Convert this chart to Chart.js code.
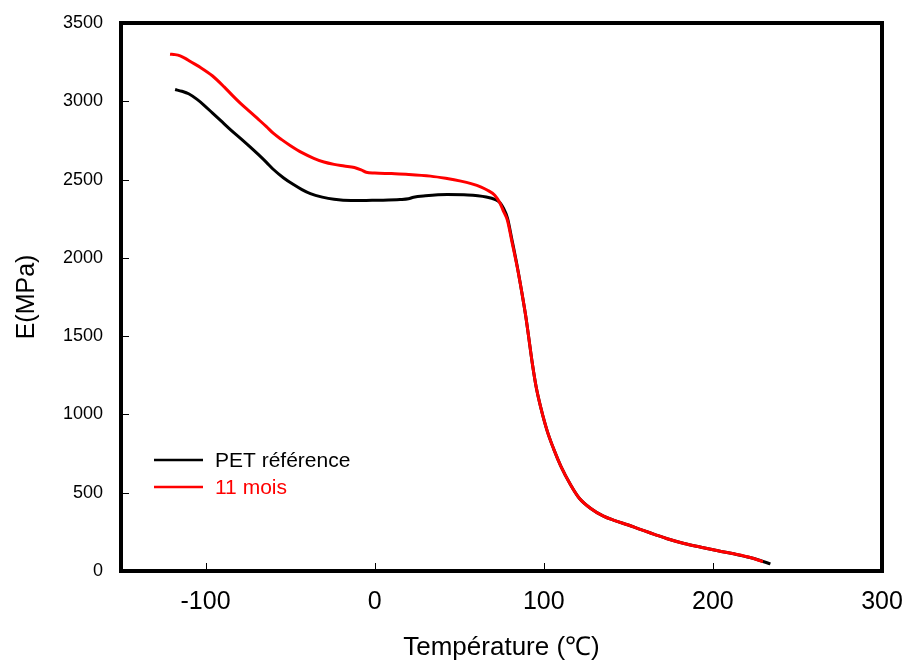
<!DOCTYPE html>
<html>
<head>
<meta charset="utf-8">
<script src="https://cdn.jsdelivr.net/npm/chart.js@4"></script>
<style>
  body { margin: 0; background: #fff; }
  canvas { display: block; }
</style>
</head>
<body>
<canvas id="modulusChart" width="906" height="664"></canvas>
<script>
// values (temperature in °C, modulus in MPa)
const refTemp = [-118, -114, -110, -105, -101, -96, -91, -85, -79, -74, -69, -64, -60, -54, -48, -43, -38, -31, -24, -14,
    -5, 5, 15, 20, 23, 30, 43, 55, 61, 66, 71, 74, 76, 78.5, 81, 84.4, 87, 89.3, 91, 93.3,
    95.5, 98.2, 102, 106, 110, 116, 121, 128, 135, 142, 150, 157, 165, 173, 183, 193, 203, 213, 222, 228, 234];
const refModulus = [3075, 3064, 3048, 3012, 2976, 2926, 2876, 2816, 2760, 2712, 2662, 2610, 2566, 2512, 2468, 2436, 2410, 2388, 2374, 2366,
    2367, 2368, 2372, 2377, 2387, 2396, 2404, 2402, 2397, 2389, 2374, 2354, 2320, 2255, 2125, 1940, 1780, 1630, 1500, 1320,
    1175, 1045, 895, 775, 672, 548, 465, 398, 352, 322, 294, 266, 236, 206, 176, 152, 129, 108, 86, 67, 45];

const agedTemp = [-121, -118, -115, -112, -109, -103, -96, -89, -84, -79, -74, -69, -64, -60, -55, -50, -43, -36, -30, -24,
    -18, -12, -8, -5, 0, 10, 20, 33, 42, 51, 57, 63, 67, 71, 74, 76, 78.5, 81, 84.4, 87,
    89.3, 91, 93.3, 95.5, 98.2, 102, 106, 110, 116, 121, 128, 135, 142, 150, 157, 165, 173, 183, 193, 203, 213, 222, 229.6];
const agedModulus = [3301, 3298, 3290, 3274, 3254, 3216, 3163, 3092, 3036, 2983, 2935, 2887, 2838, 2796, 2755, 2718, 2672, 2636, 2612, 2597,
    2587, 2577, 2562, 2547, 2542, 2538, 2533, 2522, 2508, 2490, 2474, 2452, 2430, 2400, 2352, 2302, 2240, 2112, 1935, 1780,
    1630, 1500, 1320, 1175, 1045, 895, 775, 672, 548, 465, 398, 352, 322, 294, 266, 236, 206, 176, 152, 129, 108, 86, 60];

const xTicks = [-100, 0, 100, 200, 300];
const yTicks = [0, 500, 1000, 1500, 2000, 2500, 3000, 3500];

const toPoints = (xs, ys) => xs.map((x, i) => ({ x: x, y: ys[i] }));
const fontFamily = '"Liberation Sans", Arial, sans-serif';

// frame, inward tick marks and in-plot legend
const framePlugin = {
    id: 'frame',
    afterDraw(chart) {
        const { ctx, chartArea: a, scales } = chart;
        ctx.save();
        ctx.strokeStyle = '#000';
        ctx.lineWidth = 1;
        ctx.beginPath();
        scales.x.ticks.forEach(t => {
            const px = Math.round(scales.x.getPixelForValue(t.value)) + 0.5;
            ctx.moveTo(px, a.bottom);
            ctx.lineTo(px, a.bottom - 8);
        });
        scales.y.ticks.forEach(t => {
            const py = Math.round(scales.y.getPixelForValue(t.value)) + 0.5;
            ctx.moveTo(a.left, py);
            ctx.lineTo(a.left + 8, py);
        });
        ctx.stroke();

        ctx.lineWidth = 4;
        ctx.strokeRect(a.left, a.top, a.right - a.left, a.bottom - a.top);

        // legend
        ctx.font = '21px ' + fontFamily;
        ctx.textBaseline = 'middle';
        chart.data.datasets.forEach((ds, i) => {
            const y = 460 + i * 27;
            ctx.strokeStyle = ds.borderColor;
            ctx.lineWidth = 2.5;
            ctx.beginPath();
            ctx.moveTo(154, y);
            ctx.lineTo(203, y);
            ctx.stroke();
            ctx.fillStyle = ds.borderColor;
            ctx.fillText(ds.label, 215, y + 1);
        });
        ctx.restore();
    }
};

new Chart(document.getElementById('modulusChart'), {
    type: 'line',
    data: {
        datasets: [
            {
                label: 'PET référence',
                data: toPoints(refTemp, refModulus),
                borderColor: '#000000',
                borderWidth: 3,
                pointRadius: 0,
                cubicInterpolationMode: 'monotone',
                order: 2
            },
            {
                label: '11 mois',
                data: toPoints(agedTemp, agedModulus),
                borderColor: '#ff0000',
                borderWidth: 3,
                pointRadius: 0,
                cubicInterpolationMode: 'monotone',
                order: 1
            }
        ]
    },
    options: {
        responsive: false,
        animation: false,
        devicePixelRatio: 1,
        layout: { padding: { left: 0, top: 23, right: 24, bottom: 0 } },
        plugins: {
            legend: { display: false },
            tooltip: { enabled: false }
        },
        scales: {
            x: {
                type: 'linear',
                min: -150,
                max: 300,
                afterBuildTicks: s => { s.ticks = xTicks.map(v => ({ value: v })); },
                afterFit: s => { s.height = 93; s.paddingLeft = 0; s.paddingRight = 0; },
                grid: { display: false },
                border: { display: false },
                ticks: {
                    color: '#000',
                    padding: 8,
                    maxRotation: 0,
                    callback: v => String(v),
                    font: { family: fontFamily, size: 25 }
                },
                title: {
                    display: true,
                    text: 'Température (℃)',
                    color: '#000',
                    padding: 1,
                    font: { family: fontFamily, size: 26 }
                }
            },
            y: {
                type: 'linear',
                min: 0,
                max: 3500,
                afterBuildTicks: s => { s.ticks = yTicks.map(v => ({ value: v })); },
                afterFit: s => { s.width = 121; s.paddingTop = 0; s.paddingBottom = 0; },
                grid: { display: false },
                border: { display: false },
                ticks: {
                    color: '#000',
                    padding: 10,
                    callback: v => String(v),
                    font: { family: fontFamily, size: 18 }
                },
                title: {
                    display: true,
                    text: 'E(MPa)',
                    color: '#000',
                    padding: 12,
                    font: { family: fontFamily, size: 25 }
                }
            }
        }
    },
    plugins: [framePlugin]
});
</script>
</body>
</html>
